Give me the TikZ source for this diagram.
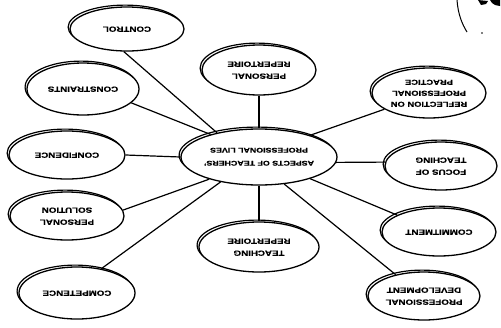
\documentclass[tikz,border=0pt]{standalone}
\usepackage{fontspec}
\setmainfont{Liberation Sans}[FakeStretch=1.3, BoldFeatures={FakeBold=0.6}]
\usepackage{graphicx}
\usetikzlibrary{shapes.geometric,shadows}
\newcommand{\flipt}[1]{\rotatebox[origin=c]{180}{\begin{tabular}{@{}c@{}}#1\end{tabular}}}
\begin{document}
\begin{tikzpicture}[x=1pt,y=-1pt,
  bub/.style={ellipse, draw=black, line width=1.3pt, fill=white, inner sep=0pt,
    font=\bfseries\fontsize{7.5}{12}\selectfont,
    general shadow={shadow xshift=-1.9pt, shadow yshift=1.9pt, draw=black, line width=1.2pt, fill=white}},
  link/.style={line width=1.2pt}]
\useasboundingbox (0,0) rectangle (501,327);
\fill[white] (0,0) rectangle (501,327);

\node[bub, minimum width=114, minimum height=44] (control) at (127,29) {\flipt{CONTROL}};
\node[bub, minimum width=112, minimum height=52] (constraints) at (83,89) {\flipt{CONSTRAINTS}};
\node[bub, minimum width=116, minimum height=48] (confidence) at (67,155) {\flipt{CONFIDENCE}};
\node[bub, minimum width=114, minimum height=48] (persol) at (67,216) {\flipt{PERSONAL\\SOLUTION}};
\node[bub, minimum width=116, minimum height=52] (competence) at (77,293) {\flipt{COMPETENCE}};
\node[bub, minimum width=120, minimum height=50] (teaching) at (259,247) {\flipt{TEACHING\\REPERTOIRE}};
\node[bub, minimum width=112, minimum height=48] (profdev) at (424,296) {\flipt{PROFESSIONAL\\DEVELOPMENT}};
\node[bub, minimum width=114, minimum height=48] (commitment) at (439,232) {\flipt{COMMITMENT}};
\node[bub, minimum width=112, minimum height=48] (focus) at (441,166) {\flipt{FOCUS OF\\TEACHING}};
\node[bub, minimum width=114, minimum height=50, font=\bfseries\fontsize{7.2}{11}\selectfont] (reflection) at (429,93) {\flipt{REFLECTION ON\\PROFESSIONAL\\PRACTICE}};
\node[bub, minimum width=114, minimum height=50] (perrep) at (259,70) {\flipt{PERSONAL\\REPERTOIRE}};
\node[bub, minimum width=156, minimum height=56, font=\bfseries\fontsize{6.8}{13}\selectfont] (center) at (259,157) {\flipt{ASPECTS OF TEACHERS'\\PROFESSIONAL LIVES}};

\draw[link] (control.262) -- (center.150);
\draw[link] (constraints.344) -- (center.155);
\draw[link] (confidence.east) -- (center.west);
\draw[link] (persol.6) -- (center.204);
\draw[link] (competence.45) -- (center.213);
\draw[link] (center.south) -- (teaching.north);
\draw[link] (center.313) -- (profdev.143);
\draw[link] (center.337) -- (commitment.158);
\draw[link] (center.356) -- (focus.176);
\draw[link] (center.23) -- (reflection.200);
\draw[link] (perrep.south) -- (center.north);

% scan marks in the corner
\draw[line width=1pt] (457,0) .. controls (458,14) and (462,24) .. (467,32);
\fill (478,0) -- (488,1) -- (486,4) -- (481,5) -- cycle;
\fill (490,0) -- (500,0) -- (500,6) -- (495,5) -- (492,3) -- cycle;
\fill (482,33) circle (0.8);
\end{tikzpicture}
\end{document}
